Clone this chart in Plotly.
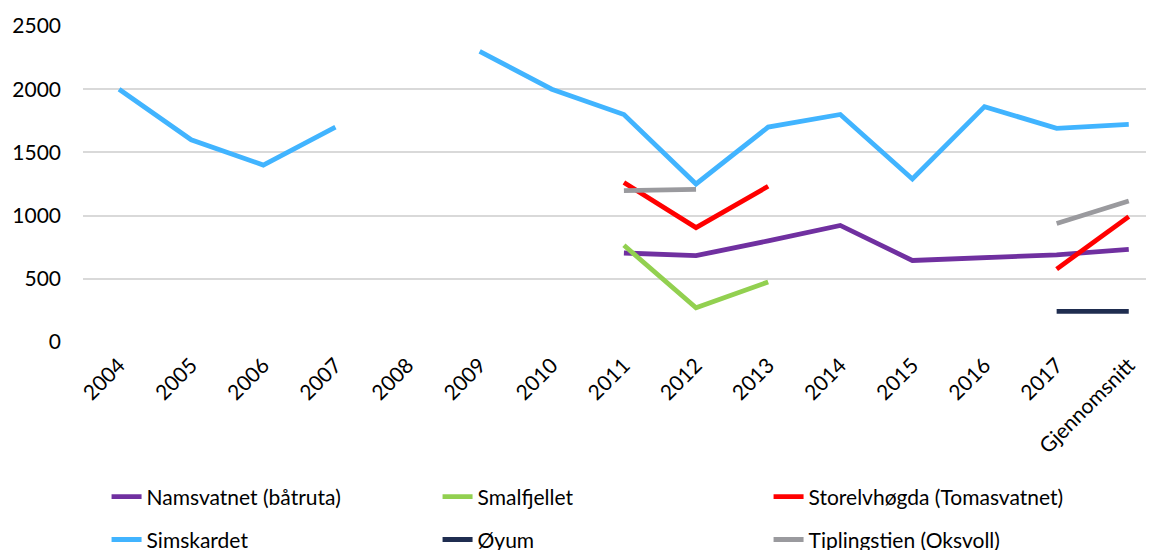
import plotly.graph_objects as go

categories = ["2004", "2005", "2006", "2007", "2008", "2009", "2010", "2011", "2012",
              "2013", "2014", "2015", "2016", "2017", "Gjennomsnitt"]

namsvatnet = [None, None, None, None, None, None, None, 704, 683, 800, 922, 645, 672, 690, 733]
smalfjellet = [None, None, None, None, None, None, None, 765, 270, 475, None, None, None, None, None]
storelvhogda = [None, None, None, None, None, None, None, 1262, 905, 1232, None, None, None, 577, 992]
simskardet = [2000, 1600, 1400, 1700, None, 2300, 2000, 1800, 1250, 1700, 1800, 1290, 1862, 1690, 1722]
oyum = [None, None, None, None, None, None, None, None, None, None, None, None, None, 243, 243]
tiplingstien = [None, None, None, None, None, None, None, 1197, 1207, None, None, None, None, 938, 1115]

series = [
    ("Namsvatnet (båtruta)", namsvatnet, "#7030A0", "legend"),
    ("Smalfjellet", smalfjellet, "#92D050", "legend"),
    ("Storelvhøgda (Tomasvatnet)", storelvhogda, "#FF0000", "legend"),
    ("Simskardet", simskardet, "#41B4FF", "legend2"),
    ("Øyum", oyum, "#1F2D50", "legend2"),
    ("Tiplingstien (Oksvoll)", tiplingstien, "#9A9A9E", "legend2"),
]

fig = go.Figure()
for name, vals, color, lg in series:
    fig.add_trace(go.Scatter(
        x=list(range(len(categories))), y=vals, name=name, mode="lines",
        line=dict(color=color, width=4.8), connectgaps=False, legend=lg,
    ))

FONT = "Lato, 'Open Sans', sans-serif"
leg_common = dict(
    orientation="h", x=0.022, xanchor="left", yanchor="middle", yref="container",
    entrywidth=286, entrywidthmode="pixels",
    font=dict(size=21, family=FONT, color="#000000"), traceorder="normal",
    bgcolor="rgba(0,0,0,0)",
)
fig.update_layout(
    width=1154, height=550,
    margin=dict(l=75, r=8, t=18, b=216),
    plot_bgcolor="white", paper_bgcolor="white",
    font=dict(family=FONT, color="#000000"),
    xaxis=dict(
        tickmode="array", tickvals=list(range(len(categories))), ticktext=categories,
        range=[-0.5, 14.35], tickangle=-45, showgrid=False, zeroline=False,
        showline=False, tickfont=dict(size=21, family=FONT), ticks="", automargin=False,
        ticklabelstandoff=6,
    ),
    yaxis=dict(
        range=[0, 2500], tickvals=[0, 500, 1000, 1500, 2000, 2500],
        showgrid=True, gridcolor="#D9D9D9", gridwidth=1.5, zeroline=False,
        tickfont=dict(size=21, family=FONT), ticks="", ticklabelstandoff=21, automargin=False,
    ),
    legend=dict(y=0.111, **leg_common),
    legend2=dict(y=0.033, **leg_common),
    showlegend=True,
)

fig.write_html("out.html")
